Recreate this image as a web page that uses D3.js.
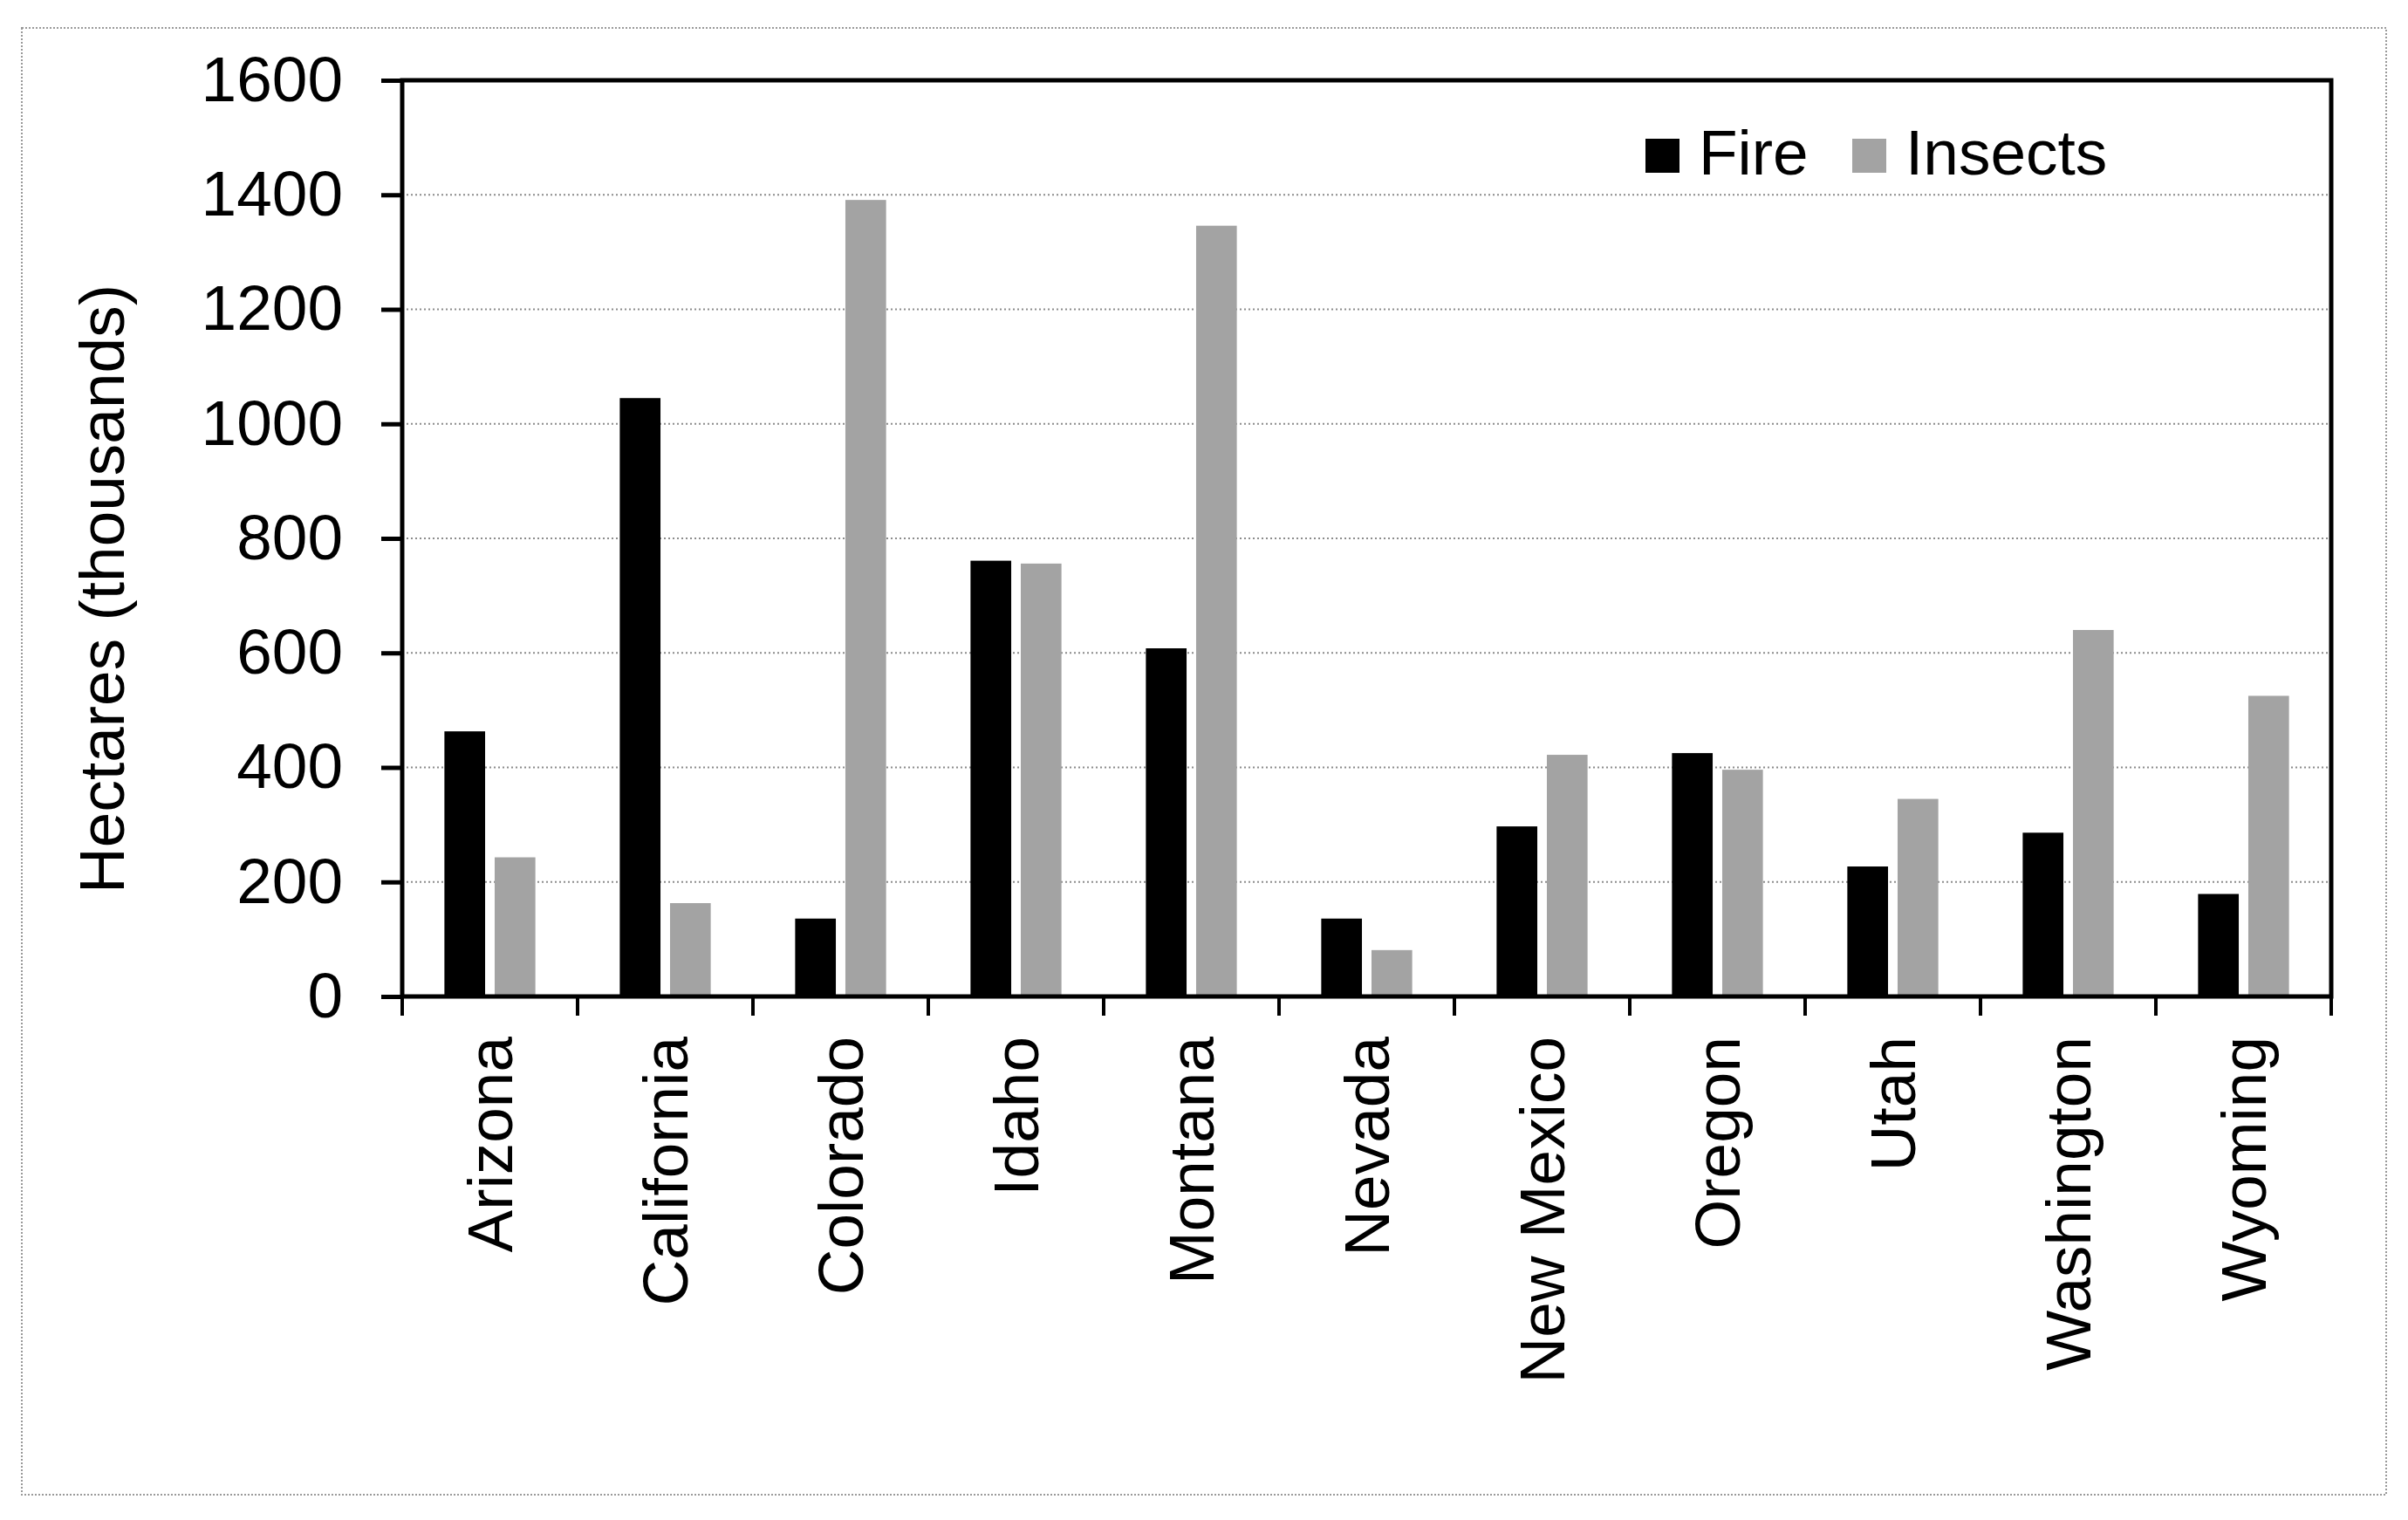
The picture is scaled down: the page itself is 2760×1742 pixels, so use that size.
<!DOCTYPE html>
<html>
<head>
<meta charset="utf-8">
<script src="https://cdn.jsdelivr.net/npm/d3@7"></script>
<style>
    body { margin: 0; background: #fff; }
    svg { display: block; font-family: "Liberation Sans", Arial, sans-serif; }
</style>
</head>
<body>
<svg id="chart" width="2760" height="1742"></svg>
<script>
// data (thousands of hectares)
var states = ["Arizona", "California", "Colorado", "Idaho", "Montana", "Nevada",
    "New Mexico", "Oregon", "Utah", "Washington", "Wyoming"];
var fire = [463, 1045, 136, 761, 608, 136, 297, 425, 227, 286, 179];
var insects = [243, 163, 1391, 756, 1346, 81, 422, 396, 345, 640, 525];
var seriesNames = ["Fire", "Insects"];
var yTicks = [0, 200, 400, 600, 800, 1000, 1200, 1400, 1600];

var colorFire = "#000000";
var colorInsects = "#a3a3a3";
var fontSize = 73;

// plot area (named so they don't clash with window.top)
var plotLeft = 461, plotRight = 2672, plotTop = 92, plotBottom = 1142;

var svg = d3.select("#chart");
svg.append("rect").attr("width", 2760).attr("height", 1742).attr("fill", "#fff");

// dotted frame round the whole figure
svg.append("rect").attr("x", 25).attr("y", 32).attr("width", 2710).attr("height", 1681)
    .attr("fill", "none").attr("stroke", "#9a9a9a").attr("stroke-width", 2)
    .attr("stroke-dasharray", "2,2");

var x0 = d3.scaleBand().domain(states).range([plotLeft, plotRight]).padding(0);
var x1 = d3.scaleBand().domain(seriesNames).range([0, x0.bandwidth()])
    .paddingInner(0.19).paddingOuter(0.84);
var y = d3.scaleLinear().domain([0, 1600]).range([plotBottom, plotTop]);
var color = d3.scaleOrdinal().domain(seriesNames).range([colorFire, colorInsects]);

// gridlines
svg.append("g").selectAll("line").data(yTicks.filter(function (d) { return d > 0 && d < 1600; }))
    .enter().append("line")
    .attr("x1", plotLeft).attr("x2", plotRight)
    .attr("y1", function (d) { return y(d); }).attr("y2", function (d) { return y(d); })
    .attr("stroke", "#8c8c8c").attr("stroke-width", 2).attr("stroke-dasharray", "2,3");

// bars
var rows = states.map(function (s, i) {
    return { state: s, values: [{ key: "Fire", v: fire[i] }, { key: "Insects", v: insects[i] }] };
});
var groups = svg.append("g").selectAll("g").data(rows).enter().append("g")
    .attr("transform", function (d) { return "translate(" + x0(d.state) + ",0)"; });
groups.selectAll("rect").data(function (d) { return d.values; }).enter().append("rect")
    .attr("x", function (d) { return x1(d.key); })
    .attr("width", x1.bandwidth())
    .attr("y", function (d) { return y(d.v); })
    .attr("height", function (d) { return y(0) - y(d.v); })
    .attr("fill", function (d) { return color(d.key); });

// y axis
var yAxis = svg.append("g").attr("transform", "translate(" + plotLeft + ",0)")
    .call(d3.axisLeft(y).tickValues(yTicks).tickFormat(d3.format("d"))
        .tickSize(24).tickPadding(44));
yAxis.select(".domain").remove();
yAxis.selectAll(".tick line").attr("stroke", "#000").attr("stroke-width", 5);
yAxis.selectAll(".tick text").attr("font-size", fontSize).attr("fill", "#000")
    .attr("font-family", "Liberation Sans, Arial, sans-serif");

// x axis ticks at band edges
var edges = states.map(function (s) { return x0(s); }).concat([plotRight]);
svg.append("g").selectAll("line").data(edges).enter().append("line")
    .attr("x1", function (d) { return d; }).attr("x2", function (d) { return d; })
    .attr("y1", plotBottom).attr("y2", plotBottom + 22)
    .attr("stroke", "#000").attr("stroke-width", 4);

// category labels
svg.append("g").selectAll("text").data(states).enter().append("text")
    .attr("transform", function (d) {
        return "translate(" + (x0(d) + x0.bandwidth() / 2) + "," + (plotBottom + 46) + ") rotate(-90)";
    })
    .attr("text-anchor", "end").attr("dy", "0.35em")
    .attr("font-size", fontSize).attr("fill", "#000")
    .text(function (d) { return d; });

// plot box
svg.append("rect").attr("x", plotLeft).attr("y", plotTop)
    .attr("width", plotRight - plotLeft).attr("height", plotBottom - plotTop)
    .attr("fill", "none").attr("stroke", "#000").attr("stroke-width", 5);

// y title
svg.append("text")
    .attr("transform", "translate(142,675) rotate(-90)")
    .attr("text-anchor", "middle")
    .attr("font-size", fontSize).attr("fill", "#000")
    .text("Hectares (thousands)");

// legend
var legendX = [1886, 2123];
var legend = svg.append("g").selectAll("g").data(seriesNames).enter().append("g")
    .attr("transform", function (d, i) { return "translate(" + legendX[i] + ",159)"; });
legend.append("rect").attr("width", 39).attr("height", 39)
    .attr("fill", function (d) { return color(d); });
legend.append("text").attr("x", 61).attr("y", 41)
    .attr("font-size", fontSize).attr("fill", "#000")
    .text(function (d) { return d; });
</script>
</body>
</html>
